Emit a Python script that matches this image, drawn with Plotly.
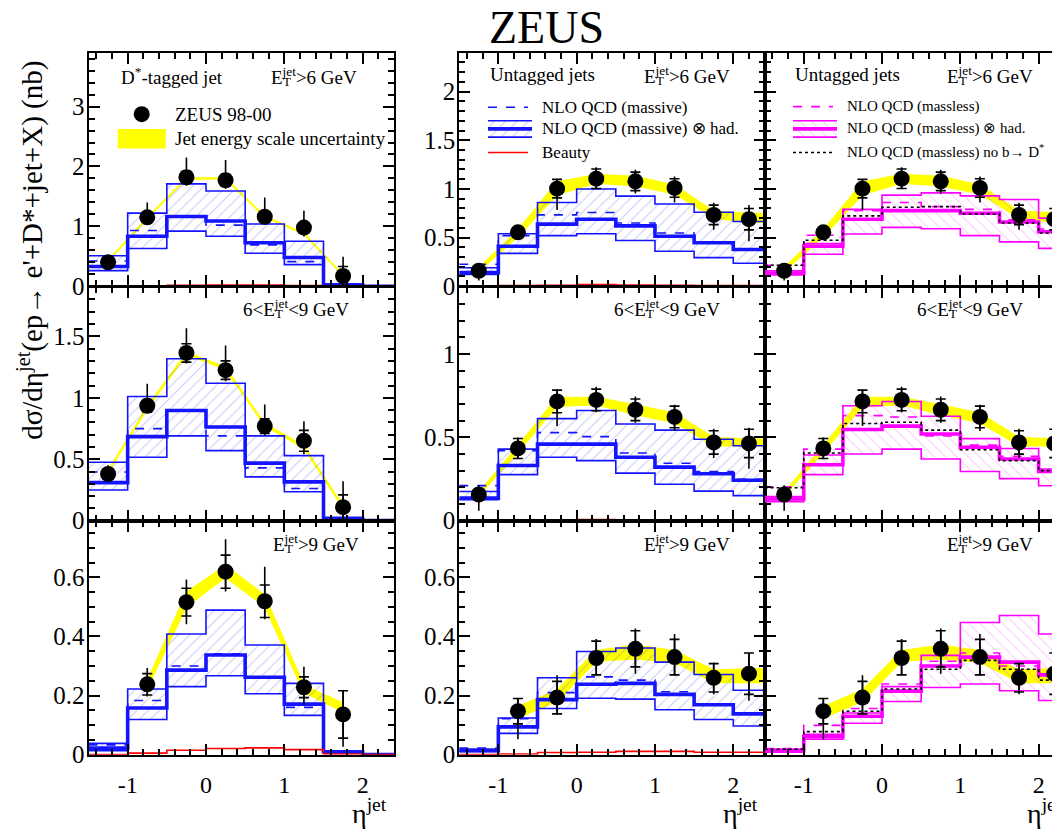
import plotly.graph_objects as go

W, H = 1060, 835          # screen size
OFF = 8                   # default page margin around the plot div
FW, FH = W - OFF, H - OFF  # figure size
FONT = "Liberation Serif"
BLUE = "#1414ff"
MAGENTA = "#ff00ff"
RED = "#ff0000"
YELLOW = "#ffff00"

# ---------------- data ----------------
BIN_EDGES = [-1.5, -1.0, -0.5, 0.0, 0.5, 1.0, 1.5, 2.0, 2.4]
X_TICK_VALS = [-1, 0, 1, 2]
X_TICK_TEXT = ["-1", "0", "1", "2"]

# D*-tagged jets (left column)
dst_eta = [-1.25, -0.75, -0.25, 0.25, 0.75, 1.25, 1.75]
dst6_xs = [0.40, 1.15, 1.82, 1.77, 1.16, 0.98, 0.17]
dst6_err_up = [0.06, 0.25, 0.33, 0.34, 0.32, 0.28, 0.32]
dst6_err_dn = [0.06, 0.10, 0.14, 0.14, 0.12, 0.15, 0.17]
dst6_stat = [0.04, 0.08, 0.10, 0.10, 0.08, 0.08, 0.16]
dst6_jes_lo = [0.41, 1.13, 1.79, 1.79, 1.15, 0.87, 0.17]
dst6_jes_hi = [0.43, 1.15, 1.81, 1.81, 1.17, 0.89, 0.19]

dst69_xs = [0.38, 0.935, 1.365, 1.225, 0.77, 0.65, 0.11]
dst69_err_up = [0.07, 0.18, 0.20, 0.20, 0.175, 0.16, 0.21]
dst69_err_dn = [0.05, 0.06, 0.085, 0.09, 0.08, 0.11, 0.11]
dst69_stat = [0.035, 0.05, 0.075, 0.075, 0.06, 0.085, 0.10]
dst69_jes_lo = [0.39, 0.91, 1.35, 1.23, 0.77, 0.59, 0.10]
dst69_jes_hi = [0.41, 0.93, 1.37, 1.25, 0.79, 0.61, 0.12]

dst9_eta = [-0.75, -0.25, 0.25, 0.75, 1.25, 1.75]
dst9_xs = [0.238, 0.516, 0.619, 0.519, 0.228, 0.136]
dst9_err_up = [0.055, 0.077, 0.11, 0.117, 0.069, 0.083]
dst9_err_dn = [0.041, 0.075, 0.067, 0.061, 0.059, 0.109]
dst9_stat = [0.036, 0.047, 0.056, 0.055, 0.035, 0.08]
dst9_jes_lo = [0.225, 0.50, 0.60, 0.50, 0.21, 0.145]
dst9_jes_hi = [0.25, 0.55, 0.64, 0.54, 0.235, 0.175]

# NLO massive for D*-tagged jets (per bin)
dst6_up = [0.51, 1.22, 1.71, 1.59, 1.04, 0.75, 0.04, 0.0]
dst6_lo = [0.26, 0.63, 0.92, 0.835, 0.55, 0.36, 0.01, 0.0]
dst6_nlo = [0.42, 0.93, 1.16, 1.02, 0.69, 0.41, 0.02, 0.0]
dst6_had = [0.33, 0.835, 1.165, 1.09, 0.725, 0.48, 0.02, 0.0]
dst6_beauty = [0.0, 0.008, 0.015, 0.02, 0.018, 0.012, 0.002, 0.0]

dst69_up = [0.476, 1.01, 1.318, 1.118, 0.69, 0.529, 0.027, 0.0]
dst69_lo = [0.249, 0.516, 0.69, 0.57, 0.356, 0.235, 0.008, 0.0]
dst69_nlo = [0.396, 0.749, 0.896, 0.69, 0.43, 0.262, 0.016, 0.0]
dst69_had = [0.31, 0.684, 0.896, 0.762, 0.468, 0.316, 0.016, 0.0]
dst69_beauty = [0.0, 0.003, 0.005, 0.006, 0.005, 0.004, 0.001, 0.0]

dst9_up = [0.038, 0.222, 0.408, 0.489, 0.371, 0.241, 0.013, 0.0]
dst9_lo = [0.013, 0.119, 0.230, 0.267, 0.206, 0.133, 0.005, 0.0]
dst9_nlo = [0.033, 0.183, 0.300, 0.341, 0.26, 0.16, 0.01, 0.0]
dst9_had = [0.022, 0.158, 0.286, 0.337, 0.262, 0.171, 0.01, 0.0]
dst9_beauty = [0.0, 0.005, 0.015, 0.021, 0.023, 0.017, 0.002, 0.0]

# Untagged jets (middle and right columns)
unt_eta = [-1.25, -0.75, -0.25, 0.25, 0.75, 1.25, 1.75, 2.2]
unt6_xs = [0.159, 0.554, 1.003, 1.105, 1.078, 1.01, 0.733, 0.689]
unt6_err_up = [0.067, 0.06, 0.10, 0.118, 0.12, 0.118, 0.125, 0.145]
unt6_err_dn = [0.10, 0.057, 0.22, 0.105, 0.125, 0.15, 0.152, 0.226]
unt6_stat = [0.03, 0.045, 0.095, 0.10, 0.095, 0.095, 0.10, 0.11]
unt6_jes_lo = [0.15, 0.51, 0.94, 1.06, 1.03, 0.95, 0.70, 0.655]
unt6_jes_hi = [0.19, 0.58, 1.07, 1.15, 1.13, 1.04, 0.77, 0.75]

unt69_xs = [0.157, 0.433, 0.715, 0.724, 0.665, 0.622, 0.469, 0.463]
unt69_err_up = [0.056, 0.065, 0.072, 0.079, 0.079, 0.073, 0.082, 0.094]
unt69_err_dn = [0.098, 0.063, 0.148, 0.074, 0.078, 0.085, 0.093, 0.152]
unt69_stat = [0.03, 0.06, 0.068, 0.065, 0.065, 0.065, 0.07, 0.085]
unt69_jes_lo = [0.15, 0.41, 0.685, 0.695, 0.636, 0.587, 0.449, 0.449]
unt69_jes_hi = [0.17, 0.45, 0.74, 0.74, 0.695, 0.646, 0.498, 0.488]

unt9_eta = [-0.75, -0.25, 0.25, 0.75, 1.25, 1.75, 2.2]
unt9_xs = [0.147, 0.193, 0.327, 0.358, 0.33, 0.26, 0.274]
unt9_err_up = [0.044, 0.076, 0.064, 0.069, 0.078, 0.051, 0.067]
unt9_err_dn = [0.095, 0.057, 0.058, 0.084, 0.063, 0.056, 0.092]
unt9_stat = [0.043, 0.055, 0.057, 0.061, 0.06, 0.048, 0.07]
unt9_jes_lo = [0.124, 0.18, 0.316, 0.324, 0.313, 0.244, 0.244]
unt9_jes_hi = [0.163, 0.219, 0.352, 0.371, 0.352, 0.286, 0.291]

# NLO QCD massive (untagged)
mas6_up = [0.19, 0.54, 0.86, 1.0, 0.926, 0.845, 0.76, 0.665]
mas6_lo = [0.12, 0.338, 0.52, 0.54, 0.47, 0.36, 0.294, 0.236]
mas6_nlo = [0.226, 0.52, 0.733, 0.757, 0.65, 0.547, 0.453, 0.378]
mas6_had = [0.14, 0.41, 0.638, 0.689, 0.62, 0.514, 0.446, 0.378]
mas6_beauty = [0.0, 0.007, 0.01, 0.018, 0.012, 0.01, 0.008, 0.007]

mas69_up = [0.175, 0.429, 0.612, 0.661, 0.58, 0.543, 0.488, 0.449]
mas69_lo = [0.125, 0.276, 0.38, 0.36, 0.285, 0.218, 0.177, 0.15]
mas69_nlo = [0.21, 0.42, 0.528, 0.504, 0.406, 0.344, 0.295, 0.248]
mas69_had = [0.135, 0.331, 0.459, 0.459, 0.38, 0.321, 0.281, 0.242]
mas69_beauty = [0.0, 0.003, 0.005, 0.007, 0.005, 0.004, 0.003, 0.003]

mas9_up = [0.019, 0.124, 0.26, 0.349, 0.361, 0.313, 0.271, 0.218]
mas9_lo = [0.011, 0.072, 0.156, 0.191, 0.188, 0.152, 0.119, 0.097]
mas9_nlo = [0.022, 0.122, 0.21, 0.263, 0.252, 0.213, 0.169, 0.138]
mas9_had = [0.013, 0.094, 0.186, 0.238, 0.241, 0.204, 0.169, 0.138]
mas9_beauty = [0.0, 0.002, 0.007, 0.008, 0.011, 0.011, 0.008, 0.008]

# NLO QCD massless (untagged)
msl6_up = [0.159, 0.439, 0.79, 0.936, 0.959, 0.929, 0.892, 0.70]
msl6_lo = [0.115, 0.328, 0.537, 0.605, 0.591, 0.52, 0.456, 0.389]
msl6_nlo = [0.216, 0.524, 0.777, 0.861, 0.818, 0.79, 0.682, 0.588]
msl6_had = [0.135, 0.412, 0.689, 0.777, 0.777, 0.75, 0.66, 0.56]
msl6_nob = [0.216, 0.473, 0.723, 0.811, 0.818, 0.743, 0.649, 0.547]

msl69_up = [0.144, 0.394, 0.689, 0.715, 0.626, 0.492, 0.433, 0.31]
msl69_lo = [0.114, 0.276, 0.40, 0.429, 0.37, 0.295, 0.252, 0.209]
msl69_nlo = [0.203, 0.429, 0.63, 0.622, 0.508, 0.453, 0.386, 0.30]
msl69_had = [0.13, 0.335, 0.547, 0.567, 0.52, 0.44, 0.37, 0.295]
msl69_nob = [0.197, 0.406, 0.583, 0.59, 0.543, 0.425, 0.36, 0.30]

msl9_up = [0.019, 0.069, 0.141, 0.23, 0.336, 0.447, 0.471, 0.408]
msl9_lo = [0.008, 0.052, 0.106, 0.18, 0.227, 0.239, 0.216, 0.183]
msl9_nlo = [0.021, 0.099, 0.156, 0.239, 0.316, 0.344, 0.30, 0.28]
msl9_had = [0.013, 0.061, 0.13, 0.215, 0.30, 0.33, 0.313, 0.27]
msl9_nob = [0.018, 0.078, 0.147, 0.222, 0.289, 0.319, 0.289, 0.252]

# ---------------- layout geometry (screen pixels) ----------------
COL_PX = [(88.5, 394.0), (459.2, 764.6), (764.6, 1060.0)]
ROW_PX = [(53.5, 291.0), (292.0, 529.5), (530.0, 767.5)]
X_RANGES = [[-1.5, 2.4], [-1.5, 2.4], [-1.5, 2.273]]
Y_SETTINGS = {
    (0, 0): ([0, 3.9], 1.0, 0.2), (0, 1): ([0, 2.4], 0.5, 0.1),
    (1, 0): ([0, 1.9], 0.5, 0.1), (1, 1): ([0, 1.4], 0.5, 0.1),
    (2, 0): ([0, 0.79], 0.2, 0.05), (2, 1): ([0, 0.79], 0.2, 0.05),
}

fig = go.Figure()


def names(idx):
    s = "" if idx == 1 else str(idx)
    return "x" + s, "y" + s


def step(v):
    return list(v) + [v[-1]]


def line_trace(idx, x, y, color, width, dash="solid", shape="hv", **kw):
    xa, ya = names(idx)
    fig.add_trace(go.Scatter(x=x, y=y, mode="lines", xaxis=xa, yaxis=ya,
                             line=dict(color=color, width=width, dash=dash, shape=shape),
                             hoverinfo="skip", **kw))


def add_panel(idx, eta, xs, eu, ed, st, jlo, jhi, extend, up, lo, nlo, had, extra,
              color, hshape, hcolor, extra_color, extra_dash):
    xa, ya = names(idx)
    # jet energy scale band
    bx = list(eta) + ([BIN_EDGES[-1]] if extend else [])
    blo = list(jlo) + ([jlo[-1]] if extend else [])
    bhi = list(jhi) + ([jhi[-1]] if extend else [])
    line_trace(idx, bx, blo, YELLOW, 1.2, shape="linear")
    line_trace(idx, bx, bhi, YELLOW, 1.2, shape="linear", fill="tonexty", fillcolor=YELLOW)
    # theory uncertainty band (hatched)
    line_trace(idx, BIN_EDGES, step(lo), color, 1.6)
    line_trace(idx, BIN_EDGES, step(up), color, 1.6, fill="tonexty",
               fillcolor="rgba(0,0,0,0)",
               fillpattern=dict(shape=hshape, fgcolor=hcolor, bgcolor="rgba(0,0,0,0)",
                                size=8, solidity=0.13))
    line_trace(idx, BIN_EDGES, step(nlo), color, 1.6, dash="dash")
    line_trace(idx, BIN_EDGES, step(had), color, 3.6)
    line_trace(idx, BIN_EDGES, step(extra), extra_color, 1.6, dash=extra_dash)
    # data: total errors (plain) and statistical errors (with caps)
    fig.add_trace(go.Scatter(x=eta, y=xs, mode="markers", xaxis=xa, yaxis=ya,
                             marker=dict(size=1, color="rgba(0,0,0,0)"),
                             error_y=dict(type="data", symmetric=False, array=eu,
                                          arrayminus=ed, color="black", thickness=1.6, width=0),
                             hoverinfo="skip"))
    fig.add_trace(go.Scatter(x=eta, y=xs, mode="markers", xaxis=xa, yaxis=ya,
                             marker=dict(size=16, color="black"),
                             error_y=dict(type="data", array=st, color="black",
                                          thickness=1.6, width=5),
                             hoverinfo="skip"))


BH = "rgba(70,70,235,0.6)"
MH = "rgba(250,70,250,0.6)"
add_panel(1, dst_eta, dst6_xs, dst6_err_up, dst6_err_dn, dst6_stat, dst6_jes_lo, dst6_jes_hi, False,
          dst6_up, dst6_lo, dst6_nlo, dst6_had, dst6_beauty, BLUE, "/", BH, RED, "solid")
add_panel(2, unt_eta, unt6_xs, unt6_err_up, unt6_err_dn, unt6_stat, unt6_jes_lo, unt6_jes_hi, True,
          mas6_up, mas6_lo, mas6_nlo, mas6_had, mas6_beauty, BLUE, "/", BH, RED, "solid")
add_panel(3, unt_eta, unt6_xs, unt6_err_up, unt6_err_dn, unt6_stat, unt6_jes_lo, unt6_jes_hi, True,
          msl6_up, msl6_lo, msl6_nlo, msl6_had, msl6_nob, MAGENTA, "\\", MH, "black", "dot")
add_panel(4, dst_eta, dst69_xs, dst69_err_up, dst69_err_dn, dst69_stat, dst69_jes_lo, dst69_jes_hi, False,
          dst69_up, dst69_lo, dst69_nlo, dst69_had, dst69_beauty, BLUE, "/", BH, RED, "solid")
add_panel(5, unt_eta, unt69_xs, unt69_err_up, unt69_err_dn, unt69_stat, unt69_jes_lo, unt69_jes_hi, True,
          mas69_up, mas69_lo, mas69_nlo, mas69_had, mas69_beauty, BLUE, "/", BH, RED, "solid")
add_panel(6, unt_eta, unt69_xs, unt69_err_up, unt69_err_dn, unt69_stat, unt69_jes_lo, unt69_jes_hi, True,
          msl69_up, msl69_lo, msl69_nlo, msl69_had, msl69_nob, MAGENTA, "\\", MH, "black", "dot")
add_panel(7, dst9_eta, dst9_xs, dst9_err_up, dst9_err_dn, dst9_stat, dst9_jes_lo, dst9_jes_hi, False,
          dst9_up, dst9_lo, dst9_nlo, dst9_had, dst9_beauty, BLUE, "/", BH, RED, "solid")
add_panel(8, unt9_eta, unt9_xs, unt9_err_up, unt9_err_dn, unt9_stat, unt9_jes_lo, unt9_jes_hi, True,
          mas9_up, mas9_lo, mas9_nlo, mas9_had, mas9_beauty, BLUE, "/", BH, RED, "solid")
add_panel(9, unt9_eta, unt9_xs, unt9_err_up, unt9_err_dn, unt9_stat, unt9_jes_lo, unt9_jes_hi, True,
          msl9_up, msl9_lo, msl9_nlo, msl9_had, msl9_nob, MAGENTA, "\\", MH, "black", "dot")

# ---------------- axes ----------------
layout_axes = {}
for r in range(3):
    for c in range(3):
        idx = r * 3 + c + 1
        s = "" if idx == 1 else str(idx)
        x0, x1 = COL_PX[c]
        y0, y1 = ROW_PX[r]
        yr, ydt, ymin = Y_SETTINGS[(r, min(c, 1))]
        layout_axes["xaxis" + s] = dict(
            domain=[(x0 - OFF) / FW, min(1.0, (x1 - OFF) / FW)], range=X_RANGES[c], anchor="y" + s,
            showline=True, linecolor="black", linewidth=2, mirror="ticks",
            ticks="inside", ticklen=11, tickwidth=1.5, tickcolor="black",
            tickmode="array", tickvals=X_TICK_VALS, ticktext=X_TICK_TEXT,
            showticklabels=(r == 2), tickfont=dict(family=FONT, size=24, color="black"),
            ticklabelstandoff=8,
            showgrid=False, zeroline=False, fixedrange=True,
            minor=dict(ticks="inside", ticklen=6, tickwidth=1.5, tickcolor="black",
                       tickmode="linear", tick0=0, dtick=0.2, showgrid=False),
        )
        layout_axes["yaxis" + s] = dict(
            domain=[1 - (y1 - OFF) / FH, 1 - (y0 - OFF) / FH], range=yr, anchor="x" + s,
            showline=True, linecolor="black", linewidth=2,
            mirror=("ticks" if c < 2 else False),
            ticks="inside", ticklen=11, tickwidth=1.5, tickcolor="black",
            tickmode="linear", tick0=0, dtick=ydt,
            showticklabels=(c < 2), tickfont=dict(family=FONT, size=25, color="black"),
            ticklabelstandoff=-3,
            showgrid=False, zeroline=False, fixedrange=True,
            minor=dict(ticks="inside", ticklen=6, tickwidth=1.5, tickcolor="black",
                       tickmode="linear", tick0=0, dtick=ymin, showgrid=False),
        )

# overlay axes in screen pixels for legends and labels
layout_axes["xaxis10"] = dict(domain=[0, 1], range=[OFF, W], visible=False, anchor="y10", fixedrange=True)
layout_axes["yaxis10"] = dict(domain=[0, 1], range=[H, OFF], visible=False, anchor="x10", fixedrange=True)

fig.update_layout(width=FW, height=FH, margin=dict(l=0, r=0, t=0, b=0),
                  paper_bgcolor="white", plot_bgcolor="rgba(0,0,0,0)",
                  showlegend=False, **layout_axes)


def glyph(x, y, **kw):
    fig.add_trace(go.Scatter(x=x, y=y, xaxis="x10", yaxis="y10", hoverinfo="skip", **kw))


def ann(text, x, y, size, xanchor="left", yanchor="middle", angle=0, xshift=0):
    fig.add_annotation(text=text, x=x, y=y, xref="x10", yref="y10", showarrow=False,
                       xanchor=xanchor, yanchor=yanchor, textangle=angle, xshift=xshift,
                       font=dict(family=FONT, size=size, color="black"))


def et_label(prefix_html, prefix_w, suffix, x, y, size=19):
    ann(prefix_html + "E<sup>jet</sup>" + suffix, x, y, size)
    ann("T", x + prefix_w + 0.611 * size + 0.5, y + 6, 13)


# title and axis titles
ann("ZEUS", 546, 28, 46, xanchor="center")
ann("dσ/dη<sup>jet</sup>(ep→ e'+D*+jet+X) (nb)", 31, 255, 29, xanchor="center", angle=-90)
ann("η<sup>jet</sup>", 389, 825, 28, xanchor="right")
ann("η<sup>jet</sup>", 760, 825, 28, xanchor="right")
ann("η<sup>jet</sup>", 1059, 825, 28, xanchor="right", xshift=5)

# left top panel
ann("D<sup>*</sup>-tagged jet", 119, 77, 19)
et_label("", 0, "&gt;6 GeV", 269, 77)
glyph([141.7], [116], mode="markers", marker=dict(size=16, color="black"))
ann("ZEUS 98-00", 173, 116, 19)
glyph([117.7, 165.7, 165.7, 117.7, 117.7], [131, 131, 151, 151, 131], mode="lines",
      line=dict(width=0, color=YELLOW), fill="toself", fillcolor=YELLOW)
ann("Jet energy scale uncertainty", 173, 141, 19)

# middle top panel
ann("Untagged jets", 488, 76, 19)
et_label("", 0, "&gt;6 GeV", 641.7, 76)
glyph([488, 528], [109, 109], mode="lines", line=dict(color=BLUE, width=1.6, dash="dash"))
ann("NLO QCD (massive)", 540, 109, 17)
glyph([488, 532], [139.3, 139.3], mode="lines", line=dict(color=BLUE, width=1.6))
glyph([488, 532], [122.7, 122.7], mode="lines", line=dict(color=BLUE, width=1.6), fill="tonexty",
      fillcolor="rgba(0,0,0,0)",
      fillpattern=dict(shape="/", fgcolor=BH, bgcolor="rgba(0,0,0,0)", size=8, solidity=0.13))
glyph([488, 532], [131, 131], mode="lines", line=dict(color=BLUE, width=3.6))
ann("NLO QCD (massive) ⊗ had.", 540, 131, 17)
glyph([488, 528], [155, 155], mode="lines", line=dict(color=RED, width=1.6))
ann("Beauty", 540, 155, 17)

# right top panel
ann("Untagged jets", 793, 76, 19)
et_label("", 0, "&gt;6 GeV", 945, 76)
glyph([793, 833], [108.3, 108.3], mode="lines", line=dict(color=MAGENTA, width=1.6, dash="dash"))
ann("NLO QCD (massless)", 845, 108, 15)
glyph([793, 837], [139.3, 139.3], mode="lines", line=dict(color=MAGENTA, width=1.6))
glyph([793, 837], [122.7, 122.7], mode="lines", line=dict(color=MAGENTA, width=1.6), fill="tonexty",
      fillcolor="rgba(0,0,0,0)",
      fillpattern=dict(shape="\\", fgcolor=MH, bgcolor="rgba(0,0,0,0)", size=8, solidity=0.13))
glyph([793, 837], [131, 131], mode="lines", line=dict(color=MAGENTA, width=3.6))
ann("NLO QCD (massless) ⊗ had.", 845, 131, 15)
glyph([793, 833], [155, 155], mode="lines", line=dict(color="black", width=1.6, dash="dot"))
ann("NLO QCD (massless) no b→ D<sup>*</sup>", 845, 154, 15)

# row 2 and row 3 labels
w_prefix = (0.5 + 0.564) * 19
for x in (241, 611.7, 915):
    et_label("6&lt;", w_prefix, "&lt;9 GeV", x, 313)
for x in (270.7, 641.7, 945):
    et_label("", 0, "&gt;9 GeV", x, 552)

fig.write_html("out.html")
